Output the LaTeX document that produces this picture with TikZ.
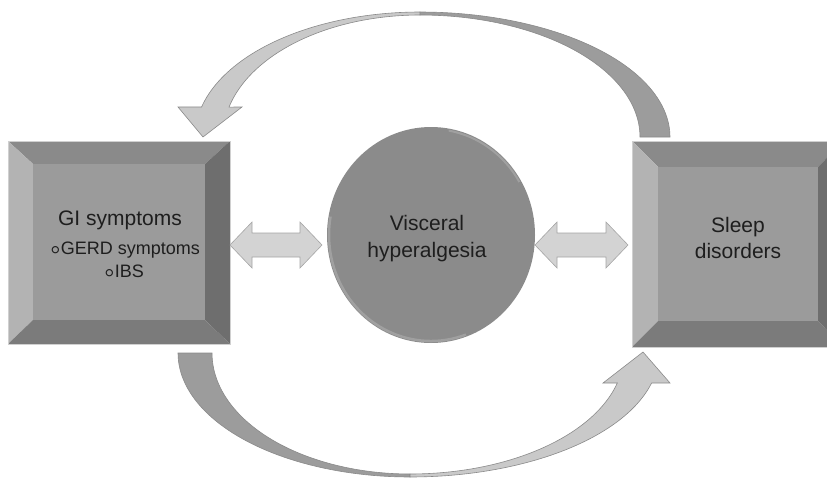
\documentclass[tikz,border=0pt]{standalone}
\usepackage{fontspec}
\setmainfont{Liberation Sans}
\usetikzlibrary{shapes.geometric}
\definecolor{face}{HTML}{9B9B9B}
\definecolor{bevtop}{HTML}{8A8A8A}
\definecolor{bevleft}{HTML}{B3B3B3}
\definecolor{bevright}{HTML}{6E6E6E}
\definecolor{bevbot}{HTML}{7B7B7B}
\definecolor{circ}{HTML}{8B8B8B}
\definecolor{rim}{HTML}{A0A0A0}
\definecolor{dbl}{HTML}{D3D3D3}
\definecolor{dbledge}{HTML}{A5A5A5}
\definecolor{arrlight}{HTML}{C9C9C9}
\definecolor{arrdark}{HTML}{9C9C9C}
\definecolor{arredge}{HTML}{8A8A8A}
\definecolor{txt}{HTML}{1E1E1E}
\definecolor{boxedge}{HTML}{D0D0D0}
\newcommand\wbul{\raisebox{-5.5pt}{\fontsize{30}{30}\selectfont ◦}}
\tikzset{
  lbl/.style={anchor=base, text=txt, font=\fontsize{21}{25}\selectfont, inner sep=0pt},
  sublbl/.style={anchor=base, text=txt, font=\fontsize{18}{21}\selectfont, inner sep=0pt},
  dblarrow/.style={fill=dbl, draw=dbledge, line width=0.6pt, line join=miter},
  curvedark/.style={fill=arrdark, draw=arredge, line width=0.6pt},
  curvelight/.style={fill=arrlight, draw=arredge, line width=0.6pt, line join=miter},
}
\begin{document}
\begin{tikzpicture}[x=1pt,y=-1pt]
\useasboundingbox (0,0) rectangle (827,479);
\begin{scope}
\clip (0,0) rectangle (827,479);

% ---------- left bevelled box ----------
\fill[bevtop]   (8,141) -- (230,141) -- (205,164) -- (33,164) -- cycle;
\fill[bevleft]  (8,141) -- (33,164) -- (33,320) -- (8,344) -- cycle;
\fill[bevright] (230,141) -- (230,344) -- (205,320) -- (205,164) -- cycle;
\fill[bevbot]   (8,344) -- (230,344) -- (205,320) -- (33,320) -- cycle;
\fill[face] (33,164) rectangle (205,320);
\draw[boxedge, line width=0.8pt] (8,141) rectangle (230,344);
\node[minimum width=222pt, minimum height=203pt, inner sep=0pt] (gi) at (119,242.5) {};

% ---------- right bevelled box ----------
\fill[bevtop]   (632,141) -- (843,141) -- (818,167) -- (658,167) -- cycle;
\fill[bevleft]  (632,141) -- (658,167) -- (658,321) -- (632,347) -- cycle;
\fill[bevright] (843,141) -- (843,347) -- (818,321) -- (818,167) -- cycle;
\fill[bevbot]   (632,347) -- (843,347) -- (818,321) -- (658,321) -- cycle;
\fill[face] (658,167) rectangle (818,321);
\draw[boxedge, line width=0.8pt] (632,141) rectangle (843,347);
\node[minimum width=211pt, minimum height=206pt, inner sep=0pt] (sleep) at (737.5,244) {};

% ---------- circle ----------
\node[ellipse, fill=circ, minimum width=208pt, minimum height=216pt, inner sep=0pt] (vh) at (431,235) {};
\draw[rim, line width=2.5pt] (vh.center) ++(70:102 and 106) arc[start angle=70, end angle=190, x radius=102, y radius=106];
\draw[rim, line width=2pt] (vh.center) ++(-80:102 and 106) arc[start angle=-80, end angle=-30, x radius=102, y radius=106];

% ---------- double arrows ----------
\coordinate (dl1) at (230,245); \coordinate (dl2) at (322,245);
\coordinate (dr1) at (535,245); \coordinate (dr2) at (628,245);
\draw[dblarrow] (dl1) -- ++(22,-23) -- ++(0,11) -- ++(48,0) -- ++(0,-11) -- (dl2)
  -- ++(-22,23) -- ++(0,-11) -- ++(-48,0) -- ++(0,11) -- cycle;
\draw[dblarrow] (dr1) -- ++(22,-23) -- ++(0,11) -- ++(49,0) -- ++(0,-11) -- (dr2)
  -- ++(-22,23) -- ++(0,-11) -- ++(-49,0) -- ++(0,11) -- cycle;

% ---------- top curved arrow (sleep -> GI) ----------
\draw[curvedark] plot[domain=0:90,samples=50] ({420+250*cos(\x)},{137-125*sin(\x)})
  -- plot[domain=90:0,samples=50] ({420+220*cos(\x)},{137-122*sin(\x)}) -- cycle;
\coordinate (toptip) at (203,137);
\draw[curvelight] plot[domain=90:166.1,samples=50] ({420+225*cos(\x)},{137-125*sin(\x)})
  -- (178,107) -- (toptip) -- (242,107)
  -- plot[domain=165.8:90,samples=50] ({420+197*cos(\x)},{137-122*sin(\x)}) -- cycle;

% ---------- bottom curved arrow (GI -> sleep) ----------
\draw[curvedark] plot[domain=0:90,samples=50] ({410-232*cos(\x)},{353+124*sin(\x)})
  -- plot[domain=90:0,samples=50] ({410-198*cos(\x)},{353+121*sin(\x)}) -- cycle;
\coordinate (bottip) at (643,352);
\draw[curvelight] plot[domain=90:14.0,samples=50] ({410+249*cos(\x)},{353+124*sin(\x)})
  -- (670,383) -- (bottip) -- (603,383)
  -- plot[domain=14.36:90,samples=50] ({410+214*cos(\x)},{353+121*sin(\x)}) -- cycle;

% ---------- texts ----------
\node[lbl] (t1) at (120,225) {GI symptoms};
\node[sublbl] (t2) at (125,254) {\wbul GERD symptoms};
\node[sublbl] (t3) at (124,277) {\wbul IBS};
\node[lbl] (t4) at (427,230) {Visceral};
\node[lbl] (t5) at (427,257) {hyperalgesia};
\node[lbl] (t6) at (738,232) {Sleep};
\node[lbl] (t7) at (738,258) {disorders};
\end{scope}
\end{tikzpicture}
\end{document}
